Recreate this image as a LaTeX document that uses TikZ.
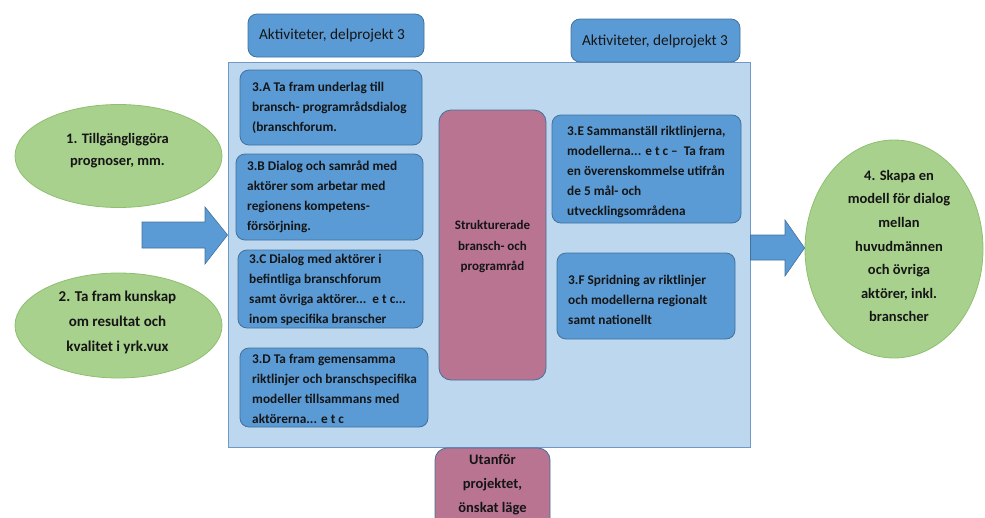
\documentclass[tikz,border=0pt]{standalone}
\usepackage{fontspec}
\setmainfont{Carlito}
\usetikzlibrary{shapes.geometric}

\definecolor{panelfill}{HTML}{BDD7EE}
\definecolor{paneledge}{HTML}{7099C6}
\definecolor{boxfill}{HTML}{5B9BD5}
\definecolor{boxedge}{HTML}{41719C}
\definecolor{greenfill}{HTML}{A9D18E}
\definecolor{greenedge}{HTML}{8EBF6E}
\definecolor{pinkfill}{HTML}{B87491}
\definecolor{ink}{HTML}{151515}

\tikzset{
  panel/.style={draw=paneledge, fill=panelfill, line width=0.9pt},
  bluebox/.style={draw=boxedge, fill=boxfill, line width=0.8pt, rounded corners=9pt, inner sep=0pt},
  pinkbox/.style={draw=boxedge, fill=pinkfill, line width=0.8pt, rounded corners=12pt, inner sep=0pt},
  goal/.style={ellipse, draw=greenedge, fill=greenfill, line width=0.8pt, inner sep=0pt, align=center, text=ink},
  boxtext/.style={anchor=west, align=left, inner sep=0pt, text=ink, font=\fontsize{13.3}{20}\selectfont\bfseries},
  plaintext/.style={align=center, inner sep=0pt, text=ink, font=\fontsize{13.5}{21.5}\selectfont\bfseries},
  headtext/.style={align=center, inner sep=0pt, text=ink, font=\fontsize{15.3}{18}\selectfont},
  bigarrow/.style={fill=boxfill, draw=boxedge, line width=0.6pt, line join=miter},
}

\begin{document}
\begin{tikzpicture}[x=1pt,y=-1pt]
\useasboundingbox (0,0) rectangle (985,517);
\clip (0,0) rectangle (985,517);

% central panel with the activities of the sub-project
\node[panel, minimum width=522pt, minimum height=385pt, inner sep=0pt] (panel) at (489,254.5) {};

% headings above the panel
\node[bluebox, minimum width=176pt, minimum height=43pt] (head1) at (336,35.5) {};
\node[headtext] (head1t) at (332,35) {Aktiviteter, delprojekt 3};
\node[bluebox, minimum width=169pt, minimum height=43pt] (head2) at (655.5,40.5) {};
\node[headtext] (head2t) at (655,41) {Aktiviteter, delprojekt 3};

% activity boxes, left column
\node[bluebox, minimum width=182pt, minimum height=75pt] (b3a) at (331,107.5) {};
\node[boxtext] (t3a) at (252,108) {3.A Ta fram underlag till\\bransch- programrådsdialog\\(branschforum.};

\node[bluebox, minimum width=187pt, minimum height=86pt] (b3b) at (329.5,197) {};
\node[boxtext] (t3b) at (247,197) {3.B Dialog och samråd med\\aktörer som arbetar med\\regionens kompetens-\\försörjning.};

\node[bluebox, minimum width=185pt, minimum height=78pt] (b3c) at (330.5,289) {};
\node[boxtext] (t3c) at (249,290) {3.C Dialog med aktörer i\\befintliga branschforum\\samt övriga aktörer...\ \ e t c...\\inom specifika branscher};

\node[bluebox, minimum width=188pt, minimum height=79pt] (b3d) at (334,387.5) {};
\node[boxtext] (t3d) at (252,389) {3.D Ta fram gemensamma\\riktlinjer och branschspecifika\\modeller tillsammans med\\aktörerna... e t c};

% structured councils in the middle
\node[pinkbox, minimum width=107pt, minimum height=270pt] (council) at (492.5,245) {};
\node[plaintext, font=\fontsize{13}{20.5}\selectfont\bfseries] (councilt) at (492.5,247) {Strukturerade\\bransch- och\\programråd};

% activity boxes, right column
\node[bluebox, minimum width=189pt, minimum height=108pt] (b3e) at (646.5,169) {};
\node[boxtext] (t3e) at (567,172) {3.E Sammanställ riktlinjerna,\\modellerna... e t c --\ \ Ta fram\\en överenskommelse utifrån\\de 5 mål- och\\utvecklingsområdena};

\node[bluebox, minimum width=178pt, minimum height=86pt] (b3f) at (646,296) {};
\node[boxtext] (t3f) at (568,300) {3.F Spridning av riktlinjer\\och modellerna regionalt\\samt nationellt};

% outside the project
\node[pinkbox, minimum width=115pt, minimum height=90pt] (outside) at (492.5,493) {};
\node[plaintext, anchor=north, font=\fontsize{14.5}{24}\selectfont\bfseries] (outsidet) at (492.5,454) {Utanför\\projektet,\\önskat läge};

% goals on the left
\node[goal, minimum width=207pt, minimum height=103pt] (g1) at (118.5,156) {};
\node[plaintext, font=\fontsize{14.5}{22}\selectfont\bfseries] (g1t) at (117.5,151) {1. Tillgängliggöra\\prognoser, mm.};
\node[goal, minimum width=207pt, minimum height=105pt] (g2) at (118.5,325.5) {};
\node[plaintext, font=\fontsize{15}{25}\selectfont\bfseries] (g2t) at (117.5,322) {2. Ta fram kunskap\\om resultat och\\kvalitet i yrk.vux};

% goal on the right
\node[goal, minimum width=178pt, minimum height=218pt] (g4) at (894,249) {};
\node[plaintext, font=\fontsize{14.5}{23.6}\selectfont\bfseries] (g4t) at (899,246) {4. Skapa en\\modell för dialog\\mellan\\huvudmännen\\och övriga\\aktörer, inkl.\\branscher};

% block arrows into and out of the panel
\coordinate (inTip) at (panel.west |- 0,235);
\coordinate (outTip) at (g4.west |- 0,248);
\draw[bigarrow] (142,222) -- (205,222) -- (205,207) -- (inTip) -- (205,264) -- (205,248) -- (142,248) -- cycle;
\draw[bigarrow] (panel.east |- 0,235) -- (785,235) -- (785,220) -- (outTip) -- (785,276) -- (785,260) -- (panel.east |- 0,260) -- cycle;
\end{tikzpicture}
\end{document}
